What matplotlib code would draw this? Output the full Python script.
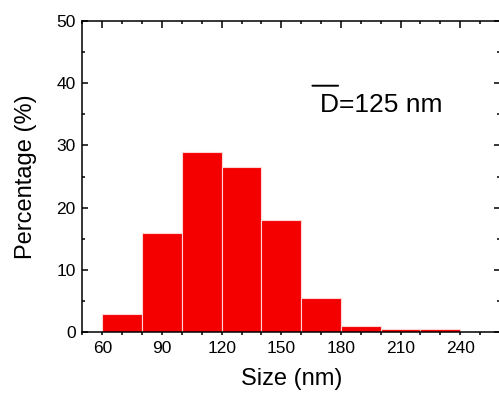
import matplotlib
matplotlib.use("Agg")
import matplotlib.pyplot as plt
from matplotlib.ticker import MultipleLocator

plt.rcParams["font.family"] = ["Liberation Sans", "DejaVu Sans"]

# histogram bins (nm) and percentage in each bin
bin_left = [60, 80, 100, 120, 140, 160, 180, 200, 220]
bin_width = 20
percent = [3.0, 16.0, 29.0, 26.5, 18.1, 5.6, 1.1, 0.5, 0.5]
size_ticks = [60, 90, 120, 150, 180, 210, 240]
mean_size = 125

fig = plt.figure(figsize=(4.99, 3.98), dpi=100)
ax = fig.add_axes([0.1653, 0.1646, 0.8367, 0.7834])

ax.bar(bin_left, percent, width=bin_width, align="edge",
       color="#f50000", edgecolor="#ffd6d6", linewidth=0.8)

ax.set_xlim(50, 260)
ax.set_ylim(0, 50)
ax.set_xticks(size_ticks)
ax.xaxis.set_minor_locator(MultipleLocator(10))
ax.yaxis.set_major_locator(MultipleLocator(10))
ax.yaxis.set_minor_locator(MultipleLocator(5))

for s in ax.spines.values():
    s.set_linewidth(1.1)

ax.tick_params(axis="x", which="both", direction="out", top=True, labelsize=12.5,
               width=1.1, pad=2.5)
ax.tick_params(axis="y", which="both", direction="in", right=True, labelsize=12.5,
               width=1.1, pad=5)
ax.tick_params(axis="y", which="major", length=4)
ax.tick_params(axis="y", which="minor", length=2.2)

# bottom ticks short and outward, top ticks point into the plot
for t in ax.xaxis.get_major_ticks():
    t.tick1line.set_markersize(2.4)
    t.tick2line.set_marker(3)
    t.tick2line.set_markersize(4.8)
for t in ax.xaxis.get_minor_ticks():
    t.tick1line.set_markersize(2.2)
    t.tick2line.set_marker(3)
    t.tick2line.set_markersize(2.4)

ax.set_xlabel("Size (nm)", fontsize=17, labelpad=9)
ax.set_ylabel("Percentage (%)", fontsize=17, labelpad=14)

txt = ax.text(0.715, 0.7074, "D=%d nm" % mean_size, transform=ax.transAxes,
              fontsize=19, ha="center", va="baseline")
# bar over the D
ax.annotate("", xy=(-0.06, 1.3), xycoords=txt, xytext=(0.15, 1.3),
            textcoords=txt,
            arrowprops=dict(arrowstyle="-", lw=1.4, color="black",
                            shrinkA=0, shrinkB=0))

fig.savefig("out.png", dpi=100)
